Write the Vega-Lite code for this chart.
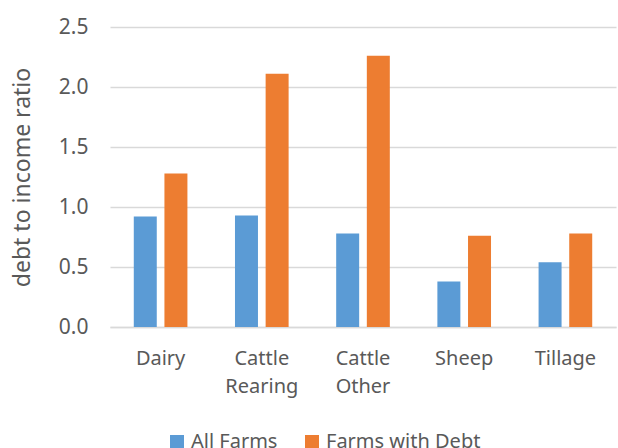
{
  "$schema": "https://vega.github.io/schema/vega-lite/v6.json",
  "width": 506,
  "height": 300,
  "autosize": "none",
  "padding": {"left": 110, "top": 27, "right": 2, "bottom": 121},
  "background": "white",
  "data": {
    "values": [
      {"type": "Dairy", "series": "All Farms", "value": 0.92},
      {"type": "Dairy", "series": "Farms with Debt", "value": 1.28},
      {"type": "Cattle Rearing", "series": "All Farms", "value": 0.93},
      {"type": "Cattle Rearing", "series": "Farms with Debt", "value": 2.11},
      {"type": "Cattle Other", "series": "All Farms", "value": 0.78},
      {"type": "Cattle Other", "series": "Farms with Debt", "value": 2.26},
      {"type": "Sheep", "series": "All Farms", "value": 0.38},
      {"type": "Sheep", "series": "Farms with Debt", "value": 0.76},
      {"type": "Tillage", "series": "All Farms", "value": 0.54},
      {"type": "Tillage", "series": "Farms with Debt", "value": 0.78}
    ]
  },
  "mark": {"type": "bar"},
  "encoding": {
    "x": {
      "field": "type",
      "type": "nominal",
      "sort": null,
      "scale": {"paddingInner": 0.47, "paddingOuter": 0.235},
      "axis": {
        "title": null,
        "labelAngle": 0,
        "labelExpr": "split(datum.label, ' ')",
        "labelLineHeight": 28,
        "labelFont": "Noto Sans",
        "labelFontSize": 20,
        "labelColor": "#595959",
        "labelPadding": 21,
        "ticks": false,
        "domainColor": "#D9D9D9",
        "domainWidth": 1.5
      }
    },
    "xOffset": {
      "field": "series",
      "type": "nominal",
      "scale": {"paddingInner": 0.25, "paddingOuter": 0}
    },
    "y": {
      "field": "value",
      "type": "quantitative",
      "scale": {"domain": [0, 2.5]},
      "axis": {
        "title": "debt to income ratio",
        "titleFont": "Noto Sans",
        "titleFontSize": 23,
        "titleFontWeight": "normal",
        "titleColor": "#595959",
        "titlePadding": 24,
        "values": [0, 0.5, 1, 1.5, 2, 2.5],
        "format": ".1f",
        "labelFont": "Noto Sans",
        "labelFontSize": 21,
        "labelColor": "#595959",
        "labelPadding": 22,
        "ticks": false,
        "domain": false,
        "gridColor": "#D9D9D9",
        "gridWidth": 1.3
      }
    },
    "color": {
      "field": "series",
      "type": "nominal",
      "scale": {"domain": ["All Farms", "Farms with Debt"], "range": ["#5B9BD5", "#ED7D31"]},
      "legend": {
        "title": null,
        "orient": "none",
        "direction": "horizontal",
        "legendX": 57,
        "legendY": 405,
        "symbolType": "square",
        "symbolSize": 196,
        "symbolStrokeWidth": 0,
        "labelFont": "Noto Sans",
        "labelFontSize": 20,
        "labelColor": "#595959",
        "labelOffset": 4,
        "columnPadding": 24
      }
    }
  },
  "config": {"view": {"stroke": null}}
}
